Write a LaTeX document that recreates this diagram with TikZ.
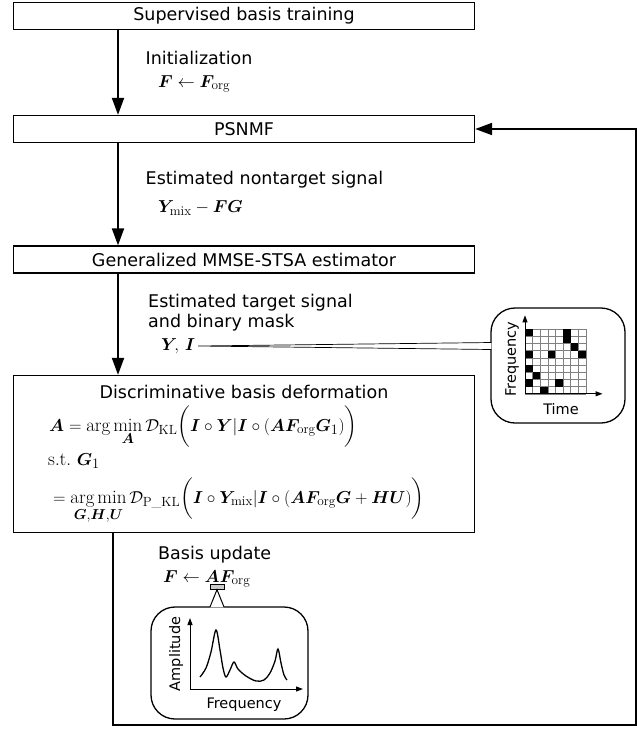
\documentclass[tikz,border=0pt]{standalone}
\usepackage{amsmath}
\usepackage{bm}
\usepackage{fontspec}
\newfontfamily\dejavu{DejaVu Sans}
\usetikzlibrary{positioning,arrows.meta,calc}
\newcommand{\mainsize}{\fontsize{17.5}{20}\selectfont}
\newcommand{\mathsize}{\fontsize{19}{18.4}\selectfont}
\newcommand{\smallsize}{\fontsize{14.5}{17}\selectfont}
\tikzstyle{block} = [rectangle, draw, line width=1.3pt, minimum height=27pt, inner sep=0pt, font=\dejavu\mainsize]
\tikzstyle{flow}  = [line width=2pt, -{Triangle[width=12pt,length=17pt]}]

\begin{document}
\begin{tikzpicture}[x=1pt, y=-1pt,
			txt/.style={font=\dejavu\mainsize, inner sep=0pt},
			eq/.style={font=\mathsize, inner sep=0pt},
			small/.style={font=\dejavu\smallsize, inner sep=0pt},
			rbox/.style={draw, line width=1.3pt, rounded corners=24pt, inner sep=0pt},
			axis/.style={line width=1pt, -{Triangle[width=5pt,length=7pt]}}
		]
		\useasboundingbox (0,0) rectangle (637,729);
		\coordinate (trunk) at (118,0);
		\coordinate (back) at (113,0);
		\coordinate (loopc) at (636,725);

		% main chain
		\node[block, minimum width=461pt] (sup) at (244,16) {Supervised basis training};
		\node[block, minimum width=461pt] (psnmf) at (244,129) {PSNMF};
		\node[block, minimum width=461pt] (mmse) at (244,259.5) {Generalized MMSE-STSA estimator};
		\node[block, minimum width=461pt, minimum height=157pt] (dbd) at (244,454) {};
		\node[txt] (dbdtitle) at (244,391.5) {Discriminative basis deformation};

		\draw[flow] (sup.south -| trunk) -- (psnmf.north -| trunk);
		\draw[flow] (psnmf.south -| trunk) -- (mmse.north -| trunk);
		\draw[flow] (mmse.south -| trunk) -- (dbd.north -| trunk);
		\draw[flow] (dbd.south -| back) |- (loopc) |- (psnmf.east);

		% labels on the arrows
		\node[txt, anchor=west] (init) at (145.5,58) {Initialization};
		\node[eq, anchor=west] (initeq) at (158,84) {$\bm{F}\leftarrow\bm{F}_{\mathrm{org}}$};
		\node[txt, anchor=west] (nontgt) at (145.5,180) {Estimated nontarget signal};
		\node[eq, anchor=west] (nontgteq) at (158,208) {$\bm{Y}_{\mathrm{mix}}-\bm{F}\bm{G}$};
		\node[txt, anchor=west] (tgt) at (148,303) {Estimated target signal};
		\node[txt, anchor=west] (mask) at (148,323) {and binary mask};
		\node[eq, anchor=west] (yi) at (161,346) {$\bm{Y}\!,\,\bm{I}$};

		% deformation problem
		\node[eq, anchor=base west] (eqa) at (49,431) {$\displaystyle \bm{A}=\arg\min_{\bm{A}}\mathcal{D}_{\mathrm{KL}}\biggl(\bm{I}\circ\bm{Y}|\bm{I}\circ(\bm{A}\bm{F}_{\mathrm{org}}\bm{G}_1)\biggr)$};
		\node[eq, anchor=base west] (st) at (48,465) {$\mathrm{s.t.}\ \bm{G}_1$};
		\node[eq, anchor=base west] (eqg) at (53,503) {$\displaystyle =\mathop{\arg\min}\limits_{\bm{G},\bm{H},\bm{U}}\mathcal{D}_{\mathrm{P\_KL}}\biggl(\bm{I}\circ\bm{Y}_{\mathrm{mix}}|\bm{I}\circ(\bm{A}\bm{F}_{\mathrm{org}}\bm{G}+\bm{H}\bm{U})\biggr)$};

		% basis update
		\node[txt, anchor=west] (upd) at (158,555) {Basis update};
		\node[eq, anchor=west] (updeq) at (163,579) {$\bm{F}\leftarrow\bm{A}\bm{F}_{\mathrm{org}}$};

		% time-frequency mask callout
		\node[rbox, minimum width=134pt, minimum height=115pt] (tfbox) at (558,365.5) {};
		\fill[white] ($(yi.east)+(3,0)$) -- ($(tfbox.west |- yi.east)+(1,-3.5)$) -- ($(tfbox.west |- yi.east)+(1,3.5)$) -- cycle;
		\draw[line width=0.7pt] ($(tfbox.west |- yi.east)+(1,-3.5)$) -- ($(yi.east)+(3,0)$) -- ($(tfbox.west |- yi.east)+(1,3.5)$);
		\begin{scope}[shift={(525,329)}, x=7.6pt, y=-7.2pt]
			\foreach \i in {0,...,8}
				\draw[gray, line width=0.6pt] (\i,0) -- (\i,9);
			\foreach \j in {0,...,9}
				\draw[gray, line width=0.6pt] (0,\j) -- (8,\j);
			\foreach \c/\r in {0/0,5/0,5/1,6/2,0/3,3/3,7/3,0/5,1/6,0/7,4/7,2/8}
				\fill (\c,\r) rectangle (\c+1,\r+1);
			\draw[axis] (0,9) -- (0,-1.9);
			\draw[axis] (0,9) -- (10.2,9);
		\end{scope}
		\node[small, rotate=90] (tffreq) at (512,359) {Frequency};
		\node[small] (tftime) at (561,409) {Time};

		% spectrum callout
		\node[rbox, minimum width=157pt, minimum height=112pt] (ampbox) at (229.5,663) {};
		\node[draw, fill=gray!40, minimum width=14pt, minimum height=4.5pt, inner sep=0pt, line width=0.8pt] (amark) at (217,587) {};
		\fill[white] (amark.south) -- ($(ampbox.north -| amark)+(-7,1)$) -- ($(ampbox.north -| amark)+(7,1)$) -- cycle;
		\draw[line width=1pt] ($(ampbox.north -| amark)+(-7,0.6)$) -- (amark.south) -- ($(ampbox.north -| amark)+(7,0.6)$);
		\draw[axis] (190,689) -- (190,618);
		\draw[axis] (190,689) -- (303,689);
		\draw[line width=1.3pt] plot[smooth, tension=0.55] coordinates {(200,677) (206,668) (211,652) (216,630) (220,650) (223,668) (226,677) (230,670) (234,662) (238,669) (246,676) (256,681) (264,680) (270,673) (275,661) (278,649) (281,663) (284,675) (287,680)};
		\node[small, rotate=90] (amp) at (176,654) {Amplitude};
		\node[small] (ampfreq) at (244,705) {Frequency};
	\end{tikzpicture}
\end{document}
